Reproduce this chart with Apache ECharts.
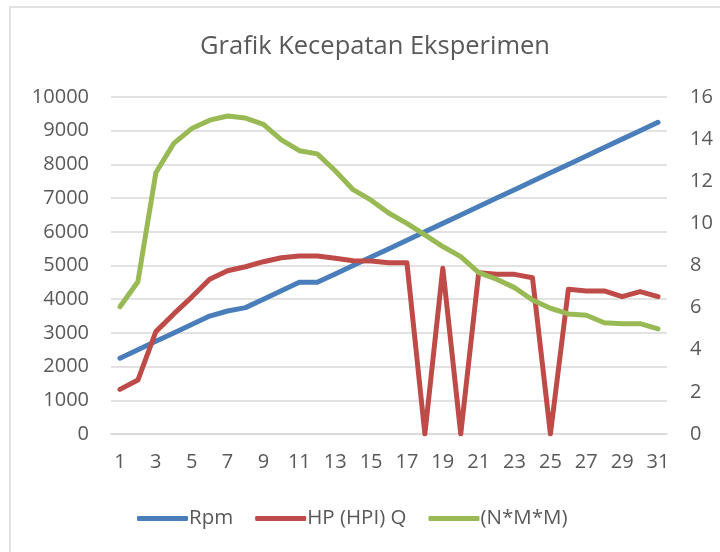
<!DOCTYPE html>
<html>
<head>
<meta charset="utf-8">
<script src="https://cdn.jsdelivr.net/npm/echarts@6/dist/echarts.min.js"></script>
<style>
html,body{margin:0;padding:0;background:#fff;}
#c{width:720px;height:552px;}
</style>
</head>
<body>
<div id="c"></div>
<script>
var categories = ['1','2','3','4','5','6','7','8','9','10','11','12','13','14','15','16','17','18','19','20','21','22','23','24','25','26','27','28','29','30','31'];
var rpm = [2250,2500,2750,3000,3250,3500,3650,3750,4000,4250,4500,4500,4750,5000,5250,5500,5750,6000,6250,6500,6750,7000,7250,7500,7750,8000,8250,8500,8750,9000,9250];
var hp = [2.12,2.56,4.86,5.7,6.5,7.35,7.75,7.94,8.18,8.37,8.45,8.45,8.34,8.23,8.21,8.13,8.13,0,7.87,0,7.66,7.58,7.58,7.42,0,6.87,6.79,6.79,6.52,6.76,6.52];
var nmm = [6.04,7.23,12.4,13.8,14.5,14.9,15.1,15.0,14.7,13.96,13.45,13.3,12.5,11.6,11.1,10.48,10.0,9.45,8.9,8.42,7.66,7.35,6.95,6.36,5.97,5.7,5.64,5.28,5.24,5.24,4.99];
var seriesNames = ['Rpm','HP (HPI) Q','(N*M*M)'];

var font = '"Open Sans", sans-serif';
var txt = '#595959';
var chart = echarts.init(document.getElementById('c'));
chart.setOption({
  animation:false,
  backgroundColor:'#fff',
  color:['#4a7ebb','#be4b48','#98b954'],
  graphic:[{type:'rect',shape:{x:10,y:7,width:760,height:600},style:{fill:'none',stroke:'#d9d9d9',lineWidth:1.5}}],
  title:{text:'Grafik Kecepatan Eksperimen',left:195,top:29,textStyle:{fontFamily:font,fontSize:25.5,fontWeight:'normal',color:txt}},
  legend:{bottom:18,left:132,itemWidth:51,itemHeight:5,itemGap:22,icon:'roundRect',
    textStyle:{fontFamily:font,fontSize:20.5,color:txt,padding:[0,0,0,-4]},
    data:seriesNames},
  grid:{left:111,right:53,top:97,bottom:118},
  xAxis:{type:'category',data:categories,boundaryGap:true,
    axisLine:{show:true,lineStyle:{color:'#d9d9d9',width:1.5}},axisTick:{show:false},
    axisLabel:{interval:1,fontFamily:font,fontSize:20,color:txt,margin:18}},
  yAxis:[
    {type:'value',min:0,max:10000,interval:1000,
     axisLine:{show:false},axisTick:{show:false},
     axisLabel:{fontFamily:font,fontSize:20,color:txt,margin:22,formatter:function(v){return String(v);}},
     splitLine:{lineStyle:{color:'#d9d9d9',width:1.5}}},
    {type:'value',min:0,max:16,interval:2,position:'right',
     axisLine:{show:false},axisTick:{show:false},
     axisLabel:{fontFamily:font,fontSize:20,color:txt,margin:23},
     splitLine:{show:false}}
  ],
  series:[
    {name:seriesNames[0],type:'line',data:rpm,yAxisIndex:0,symbol:'none',lineStyle:{width:5,cap:'round',join:'round'}},
    {name:seriesNames[1],type:'line',data:hp,yAxisIndex:1,symbol:'none',lineStyle:{width:5,cap:'round',join:'round'}},
    {name:seriesNames[2],type:'line',data:nmm,yAxisIndex:1,symbol:'none',lineStyle:{width:5,cap:'round',join:'round'}}
  ]
});
</script>
</body>
</html>
